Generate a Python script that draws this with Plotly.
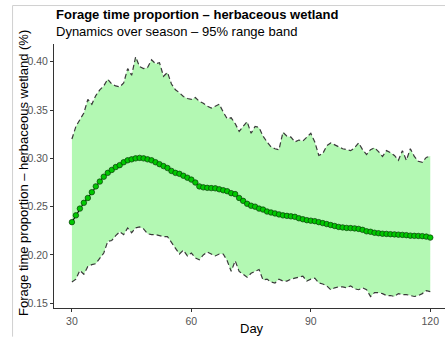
import plotly.graph_objects as go

# Day of season
days = list(range(30, 121))

# Mean forage-time proportion per day
mean_prop = [
    0.234, 0.241, 0.248, 0.254, 0.259, 0.265, 0.271, 0.276, 0.281, 0.285,  # 30-39
    0.288, 0.291, 0.293, 0.296, 0.298, 0.299, 0.300, 0.3005, 0.300, 0.299,  # 40-49
    0.298, 0.296, 0.294, 0.292, 0.290, 0.287, 0.285, 0.284, 0.282, 0.280,  # 50-59
    0.278, 0.275, 0.271, 0.270, 0.2695, 0.2692, 0.269, 0.268, 0.267, 0.266,  # 60-69
    0.264, 0.263, 0.259, 0.256, 0.253, 0.251, 0.250, 0.248, 0.247, 0.245,  # 70-79
    0.244, 0.243, 0.242, 0.241, 0.2405, 0.240, 0.2395, 0.238, 0.237, 0.236,  # 80-89
    0.2355, 0.235, 0.234, 0.233, 0.232, 0.231, 0.230, 0.229, 0.2285, 0.228,  # 90-99
    0.2278, 0.2275, 0.227, 0.226, 0.2245, 0.224, 0.223, 0.2225, 0.222, 0.2218,  # 100-109
    0.2215, 0.2213, 0.221, 0.2208, 0.2205, 0.220, 0.2198, 0.2197, 0.2195, 0.219,  # 110-119
    0.218,  # 120
]

# Upper bound of the 95% range
upper_prop = [
    0.320, 0.333, 0.340, 0.347, 0.361, 0.356, 0.365, 0.371, 0.375, 0.382,
    0.377, 0.375, 0.374, 0.378, 0.393, 0.386, 0.405, 0.395, 0.393, 0.394,
    0.402, 0.398, 0.399, 0.385, 0.389, 0.377, 0.371, 0.368, 0.364, 0.362,
    0.361, 0.363, 0.359, 0.357, 0.354, 0.352, 0.354, 0.356, 0.348, 0.341,
    0.342, 0.336, 0.328, 0.333, 0.338, 0.326, 0.333, 0.332, 0.323, 0.317,
    0.312, 0.310, 0.309, 0.327, 0.323, 0.322, 0.317, 0.319, 0.318, 0.322,
    0.326, 0.317, 0.303, 0.305, 0.313, 0.316, 0.314, 0.312, 0.310, 0.309,
    0.308, 0.311, 0.316, 0.309, 0.304, 0.309, 0.311, 0.307, 0.302, 0.308,
    0.306, 0.303, 0.298, 0.308, 0.298, 0.310, 0.302, 0.297, 0.296, 0.301,
    0.3025,
]

# Lower bound of the 95% range
lower_prop = [
    0.172, 0.175, 0.184, 0.180, 0.188, 0.190, 0.191, 0.196, 0.202, 0.214,
    0.215, 0.220, 0.224, 0.221, 0.228, 0.223, 0.228, 0.229, 0.227, 0.222,
    0.221, 0.221, 0.220, 0.219, 0.219, 0.213, 0.208, 0.201, 0.205, 0.199,
    0.202, 0.197, 0.195, 0.200, 0.203, 0.201, 0.199, 0.201, 0.201, 0.194,
    0.183, 0.194, 0.183, 0.180, 0.177, 0.181, 0.183, 0.185, 0.174, 0.175,
    0.172, 0.171, 0.175, 0.173, 0.173, 0.175, 0.176, 0.177, 0.178, 0.173,
    0.175, 0.176, 0.171, 0.170, 0.168, 0.164, 0.166, 0.167, 0.167, 0.166,
    0.168, 0.165, 0.164, 0.166, 0.164, 0.157, 0.161, 0.161, 0.160, 0.158,
    0.158, 0.157, 0.160, 0.159, 0.159, 0.158, 0.157, 0.158, 0.160, 0.163,
    0.162,
]

x_ticks = [30, 60, 90, 120]
y_ticks = [0.15, 0.20, 0.25, 0.30, 0.35, 0.40]

BAND_FILL = "#b3f8b3"
DASH_COLOR = "#3a3a3a"
AXIS_COLOR = "#333333"
TICK_FONT_COLOR = "#555555"
FONT = "Liberation Sans, Arial, sans-serif"

fig = go.Figure()

# Shaded 95% range band
fig.add_trace(go.Scatter(x=days, y=lower_prop, mode="lines",
                         line=dict(width=0), hoverinfo="skip", showlegend=False))
fig.add_trace(go.Scatter(x=days, y=upper_prop, mode="lines", fill="tonexty",
                         fillcolor=BAND_FILL, line=dict(width=0),
                         hoverinfo="skip", showlegend=False))

# Dashed band edges
for series in (upper_prop, lower_prop):
    fig.add_trace(go.Scatter(x=days, y=series, mode="lines",
                             line=dict(color=DASH_COLOR, width=1.2, dash="5px,3px"),
                             showlegend=False))

# Mean trajectory with points
fig.add_trace(go.Scatter(x=days, y=mean_prop, mode="lines+markers",
                         line=dict(color="black", width=1.1),
                         marker=dict(size=5.5, color="#00c800",
                                     line=dict(color="#0a3a0a", width=0.7)),
                         showlegend=False))

L, T, B = 53.5, 44, 30.7
W, H = 445, 339
pw = W - L
ph = H - T - B

def px_x(p):
    return (p - L) / pw

def px_y(p):
    return (H - B - p) / ph

fig.update_layout(
    width=W, height=H,
    margin=dict(l=L, r=0, t=T, b=B, pad=0),
    paper_bgcolor="white", plot_bgcolor="white",
    font=dict(family=FONT, color="black"),
    xaxis=dict(range=[25.5, 123.7], tickvals=x_ticks, ticktext=[str(v) for v in x_ticks],
               showgrid=False, zeroline=False, showline=True, linecolor=AXIS_COLOR,
               linewidth=1.1, ticks="outside", ticklen=3, tickcolor=AXIS_COLOR,
               tickwidth=1, tickfont=dict(size=10.5, color=TICK_FONT_COLOR)),
    yaxis=dict(range=[0.1451, 0.4184], tickvals=y_ticks,
               ticktext=[f"{v:.2f}" for v in y_ticks],
               showgrid=False, zeroline=False, showline=True, linecolor=AXIS_COLOR,
               linewidth=1.1, ticks="outside", ticklen=3, tickcolor=AXIS_COLOR,
               tickwidth=1, tickfont=dict(size=10.5, color=TICK_FONT_COLOR)),
    annotations=[
        dict(text="<b>Forage time proportion – herbaceous wetland</b>",
             xref="paper", yref="paper", x=px_x(53), y=px_y(14.5),
             xanchor="left", yanchor="middle", showarrow=False,
             font=dict(size=13, color="black", family=FONT)),
        dict(text="Dynamics over season – 95% range band",
             xref="paper", yref="paper", x=px_x(53), y=px_y(31.5),
             xanchor="left", yanchor="middle", showarrow=False,
             font=dict(size=13, color="black", family=FONT)),
        dict(text="Day", xref="paper", yref="paper", x=px_x(252), y=px_y(329),
             xanchor="center", yanchor="middle", showarrow=False,
             font=dict(size=13, color="black", family=FONT)),
        dict(text="Forage time proportion – herbaceous wetland (%)",
             xref="paper", yref="paper", x=px_x(23.5), y=px_y(173),
             xanchor="center", yanchor="middle", textangle=-90, showarrow=False,
             font=dict(size=13, color="black", family=FONT)),
    ],
    shapes=[
        dict(type="line", xref="paper", yref="paper",
             x0=px_x(12), x1=px_x(445), y0=px_y(5.5), y1=px_y(5.5),
             line=dict(color="#d0d0d0", width=1)),
        dict(type="line", xref="paper", yref="paper",
             x0=px_x(12), x1=px_x(12), y0=px_y(5.5), y1=px_y(337),
             line=dict(color="#d0d0d0", width=1)),
    ],
)

fig.write_html("out.html")
